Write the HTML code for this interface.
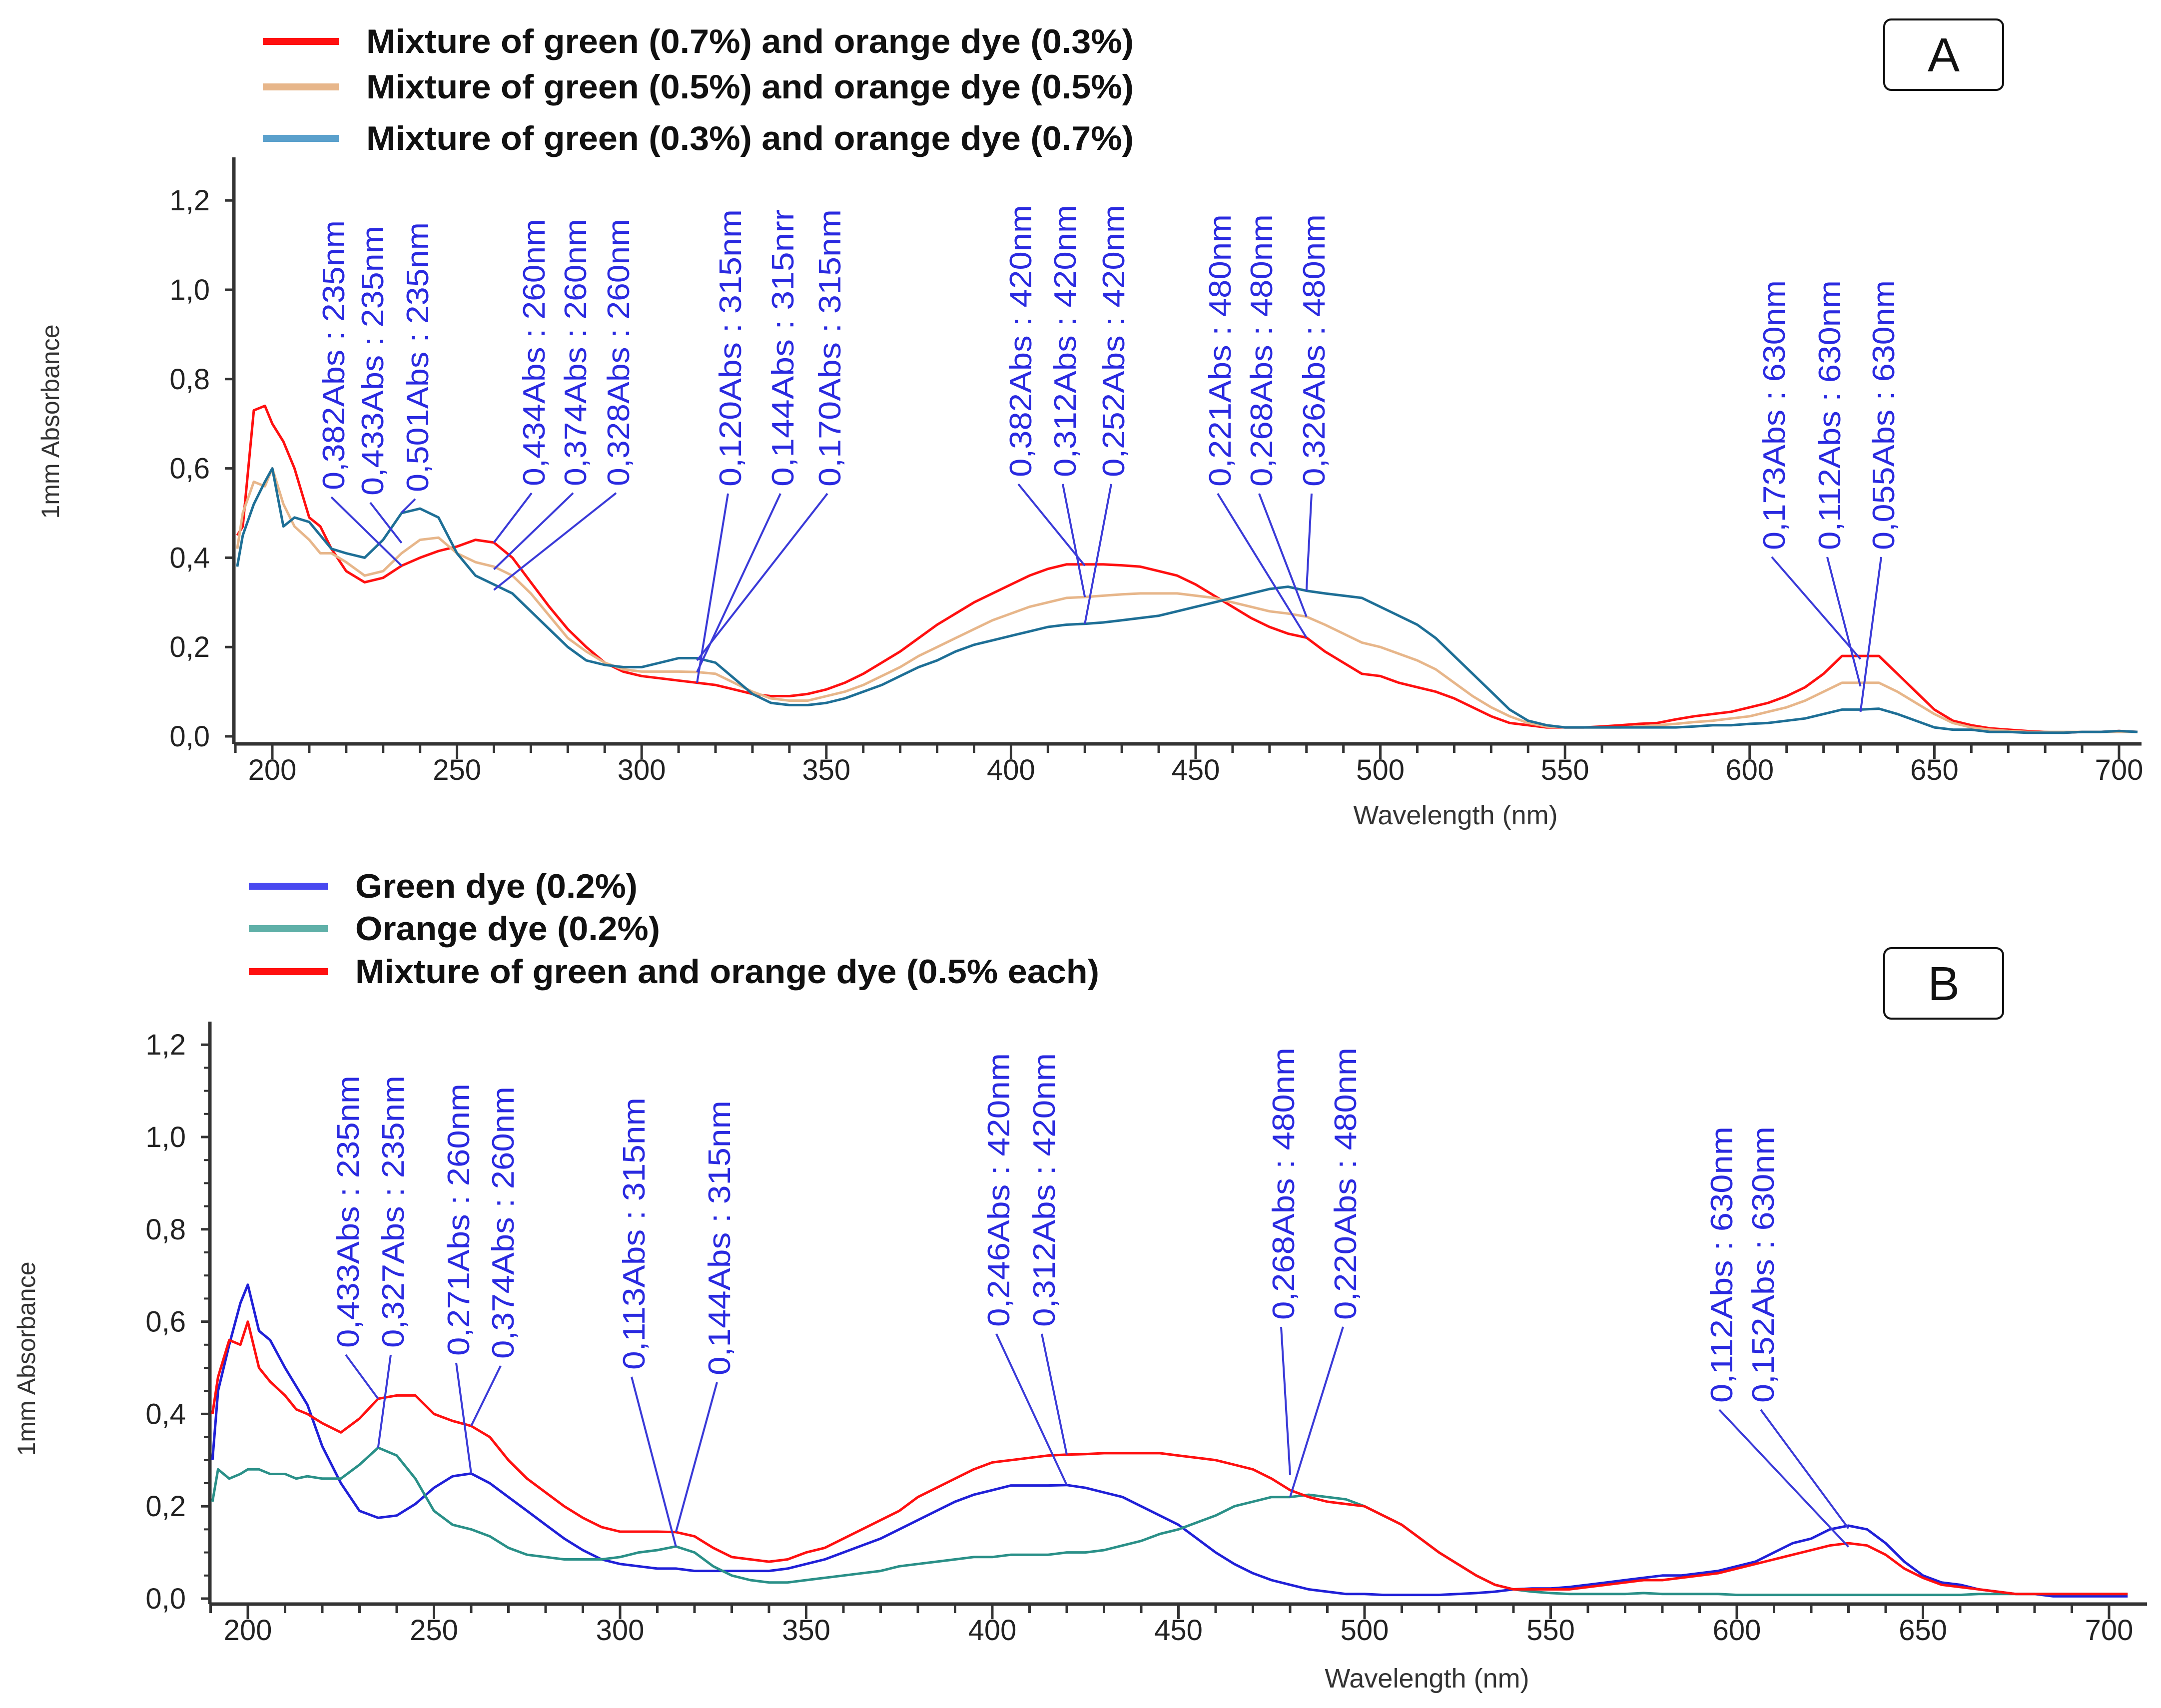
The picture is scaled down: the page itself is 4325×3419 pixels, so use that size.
<!DOCTYPE html>
<html><head><meta charset="utf-8"><style>
html,body{margin:0;padding:0;background:#fff}
svg{display:block;font-family:"Liberation Sans",sans-serif}
</style></head><body>
<svg id="chart" width="4325" height="3419" viewBox="0 0 4325 3419" xmlns="http://www.w3.org/2000/svg"></svg>
<script>
const wl=[190,192,195,198,200,203,206,210,213,216,220,225,230,235,240,245,250,255,260,265,270,275,280,285,290,295,300,305,310,315,320,325,330,335,340,345,350,355,360,365,370,375,380,385,390,395,400,405,410,415,420,425,430,435,440,445,450,455,460,465,470,475,480,485,490,495,500,505,510,515,520,525,530,535,540,545,550,555,560,565,570,575,580,585,590,595,600,605,610,615,620,625,630,635,640,645,650,655,660,665,670,675,680,685,690,695,700,705];
const aRed=[0.45,0.47,0.73,0.74,0.70,0.66,0.60,0.49,0.47,0.42,0.37,0.345,0.355,0.382,0.40,0.415,0.425,0.44,0.434,0.40,0.345,0.29,0.24,0.20,0.165,0.145,0.135,0.13,0.125,0.12,0.115,0.105,0.095,0.09,0.09,0.095,0.105,0.12,0.14,0.165,0.19,0.22,0.25,0.275,0.30,0.32,0.34,0.36,0.375,0.385,0.385,0.385,0.383,0.38,0.37,0.36,0.34,0.315,0.29,0.265,0.245,0.23,0.221,0.19,0.165,0.14,0.135,0.12,0.11,0.10,0.085,0.065,0.045,0.03,0.025,0.02,0.02,0.02,0.022,0.025,0.028,0.03,0.038,0.045,0.05,0.055,0.065,0.075,0.09,0.11,0.14,0.18,0.18,0.18,0.14,0.10,0.06,0.035,0.025,0.018,0.015,0.012,0.01,0.008,0.01,0.01,0.012,0.01];
const aTan=[0.42,0.5,0.57,0.56,0.60,0.52,0.47,0.44,0.41,0.41,0.39,0.36,0.37,0.41,0.44,0.445,0.41,0.39,0.38,0.36,0.32,0.27,0.22,0.19,0.165,0.15,0.145,0.145,0.145,0.144,0.14,0.12,0.10,0.085,0.08,0.08,0.09,0.10,0.115,0.135,0.155,0.18,0.20,0.22,0.24,0.26,0.275,0.29,0.30,0.31,0.312,0.315,0.318,0.32,0.32,0.32,0.315,0.31,0.30,0.29,0.28,0.275,0.268,0.25,0.23,0.21,0.20,0.185,0.17,0.15,0.12,0.09,0.065,0.045,0.03,0.022,0.02,0.02,0.02,0.02,0.022,0.025,0.028,0.032,0.035,0.04,0.045,0.055,0.065,0.08,0.10,0.12,0.12,0.12,0.10,0.075,0.05,0.03,0.02,0.015,0.012,0.01,0.01,0.01,0.01,0.01,0.01,0.01];
const aTeal=[0.38,0.45,0.52,0.57,0.60,0.47,0.49,0.48,0.45,0.42,0.41,0.40,0.44,0.50,0.51,0.49,0.41,0.36,0.34,0.32,0.28,0.24,0.20,0.17,0.16,0.155,0.155,0.165,0.175,0.175,0.165,0.13,0.095,0.075,0.07,0.07,0.075,0.085,0.10,0.115,0.135,0.155,0.17,0.19,0.205,0.215,0.225,0.235,0.245,0.25,0.252,0.255,0.26,0.265,0.27,0.28,0.29,0.30,0.31,0.32,0.33,0.335,0.326,0.32,0.315,0.31,0.29,0.27,0.25,0.22,0.18,0.14,0.10,0.06,0.035,0.025,0.02,0.02,0.02,0.02,0.02,0.02,0.02,0.022,0.025,0.025,0.028,0.03,0.035,0.04,0.05,0.06,0.06,0.062,0.05,0.035,0.02,0.015,0.015,0.01,0.01,0.008,0.008,0.008,0.01,0.01,0.012,0.01];
const bGreen=[0.30,0.45,0.55,0.64,0.68,0.58,0.56,0.50,0.46,0.42,0.33,0.25,0.19,0.175,0.18,0.205,0.24,0.265,0.271,0.25,0.22,0.19,0.16,0.13,0.105,0.085,0.075,0.07,0.065,0.065,0.06,0.06,0.06,0.06,0.06,0.065,0.075,0.085,0.10,0.115,0.13,0.15,0.17,0.19,0.21,0.225,0.235,0.245,0.245,0.245,0.246,0.24,0.23,0.22,0.20,0.18,0.16,0.13,0.10,0.075,0.055,0.04,0.03,0.02,0.015,0.01,0.01,0.008,0.008,0.008,0.008,0.01,0.012,0.015,0.02,0.022,0.022,0.025,0.03,0.035,0.04,0.045,0.05,0.05,0.055,0.06,0.07,0.08,0.10,0.12,0.13,0.15,0.158,0.15,0.12,0.08,0.05,0.035,0.03,0.02,0.015,0.01,0.01,0.005,0.005,0.005,0.005,0.005];
const bOrange=[0.21,0.28,0.26,0.27,0.28,0.28,0.27,0.27,0.26,0.265,0.26,0.26,0.29,0.327,0.31,0.26,0.19,0.16,0.15,0.135,0.11,0.095,0.09,0.085,0.085,0.085,0.09,0.10,0.105,0.113,0.10,0.07,0.05,0.04,0.035,0.035,0.04,0.045,0.05,0.055,0.06,0.07,0.075,0.08,0.085,0.09,0.09,0.095,0.095,0.095,0.10,0.10,0.105,0.115,0.125,0.14,0.15,0.165,0.18,0.20,0.21,0.22,0.22,0.225,0.22,0.215,0.20,0.18,0.16,0.13,0.10,0.075,0.05,0.03,0.02,0.015,0.012,0.01,0.01,0.01,0.01,0.012,0.01,0.01,0.01,0.01,0.008,0.008,0.008,0.008,0.008,0.008,0.008,0.008,0.008,0.008,0.008,0.008,0.008,0.01,0.01,0.01,0.01,0.01,0.01,0.01,0.01,0.01];
const bMix=[0.40,0.48,0.56,0.55,0.60,0.50,0.47,0.44,0.41,0.40,0.38,0.36,0.39,0.433,0.44,0.44,0.40,0.385,0.374,0.35,0.30,0.26,0.23,0.20,0.175,0.155,0.145,0.145,0.145,0.144,0.135,0.11,0.09,0.085,0.08,0.085,0.10,0.11,0.13,0.15,0.17,0.19,0.22,0.24,0.26,0.28,0.295,0.30,0.305,0.31,0.312,0.313,0.315,0.315,0.315,0.315,0.31,0.305,0.30,0.29,0.28,0.26,0.235,0.22,0.21,0.205,0.20,0.18,0.16,0.13,0.10,0.075,0.05,0.03,0.02,0.02,0.02,0.02,0.025,0.03,0.035,0.04,0.04,0.045,0.05,0.055,0.065,0.075,0.085,0.095,0.105,0.115,0.12,0.115,0.095,0.065,0.045,0.03,0.025,0.02,0.015,0.01,0.01,0.01,0.01,0.01,0.01,0.01];
const yTicks=[0,0.2,0.4,0.6,0.8,1.0,1.2];
const yTickLabels=["0,0","0,2","0,4","0,6","0,8","1,0","1,2"];
const xTicks=[200,250,300,350,400,450,500,550,600,650,700];
const xTickLabels=["200","250","300","350","400","450","500","550","600","650","700"];
const annA=[["0,382Abs : 235nm",235,0.382],["0,433Abs : 235nm",235,0.433],["0,501Abs : 235nm",235,0.501],["0,434Abs : 260nm",260,0.434],["0,374Abs : 260nm",260,0.374],["0,328Abs : 260nm",260,0.328],["0,120Abs : 315nm",315,0.120],["0,144Abs : 315nrr",315,0.144],["0,170Abs : 315nm",315,0.170],["0,382Abs : 420nm",420,0.382],["0,312Abs : 420nm",420,0.312],["0,252Abs : 420nm",420,0.252],["0,221Abs : 480nm",480,0.221],["0,268Abs : 480nm",480,0.268],["0,326Abs : 480nm",480,0.326],["0,173Abs : 630nm",630,0.173],["0,112Abs : 630nm",630,0.112],["0,055Abs : 630nm",630,0.055]];
const annB=[["0,433Abs : 235nm",235,0.433],["0,327Abs : 235nm",235,0.327],["0,271Abs : 260nm",260,0.271],["0,374Abs : 260nm",260,0.374],["0,113Abs : 315nm",315,0.113],["0,144Abs : 315nm",315,0.144],["0,246Abs : 420nm",420,0.246],["0,312Abs : 420nm",420,0.312],["0,268Abs : 480nm",480,0.268],["0,220Abs : 480nm",480,0.220],["0,112Abs : 630nm",630,0.112],["0,152Abs : 630nm",630,0.152]];

const NS="http://www.w3.org/2000/svg";
const svg=document.getElementById('chart');
function mk(tag,attrs,parent,txt){const e=document.createElementNS(NS,tag);for(const k in attrs)e.setAttribute(k,attrs[k]);if(txt!==undefined)e.textContent=txt;(parent||svg).appendChild(e);return e;}

function panel(cfg){
  const g=mk('g',{});
  
  
  const X=nm=>cfg.x200+(nm-200)*cfg.pxnm;
  const Y=v=>cfg.y0-v*cfg.pxu;
  const ya=mk('line',{x1:cfg.ax,y1:cfg.top,x2:cfg.ax,y2:cfg.xaxY,stroke:'#333','stroke-width':7},g);
  
  
  const xa=mk('line',{x1:cfg.ax,y1:cfg.xaxY,x2:cfg.right,y2:cfg.xaxY,stroke:'#333','stroke-width':7},g);
  
  
  yTicks.forEach((v,i)=>{
    mk('line',{x1:cfg.ax-18,y1:Y(v),x2:cfg.ax,y2:Y(v),stroke:'#333','stroke-width':5},g);
    const t=mk('text',{x:cfg.ax-48,y:Y(v)+20,'text-anchor':'end','font-size':58,fill:'#222'},g,yTickLabels[i]);
    
    
  });
  if(cfg.minorY){for(let v=0.05;v<1.25;v+=0.05){mk('line',{x1:cfg.ax-12,y1:Y(v),x2:cfg.ax,y2:Y(v),stroke:'#333','stroke-width':4},g);}}
  for(let nm=190;nm<=700;nm+=10){mk('line',{x1:X(nm),y1:cfg.xaxY,x2:X(nm),y2:cfg.xaxY+(nm%50===0?30:18),stroke:'#333','stroke-width':5},g);}
  xTicks.forEach((v,i)=>{
    const t=mk('text',{x:X(v),y:cfg.xaxY+72,'text-anchor':'middle','font-size':58,fill:'#222'},g,xTickLabels[i]);
    
    
  });
  const xt=mk('text',{x:cfg.xtX,y:cfg.xtY,'text-anchor':'middle','font-size':54,fill:'#333'},g,'Wavelength (nm)');
  
  
  const yt=mk('text',{x:0,y:0,'text-anchor':'middle','font-size':50,fill:'#333',transform:`translate(${cfg.ytX},${cfg.ytY}) rotate(-90)`},g,'1mm Absorbance');
  
  
  cfg.series.forEach(s=>{
    const d=wl.map((nm,i)=>(i?'L':'M')+X(Math.max(nm,cfg.xmin)).toFixed(1)+' '+Y(s.vals[i]).toFixed(1)).join(' ');
    const p=mk('path',{d:d,fill:'none',stroke:s.color,'stroke-width':5,'stroke-linejoin':'round'},g);
    
    
  });
  cfg.ann.forEach((a,i)=>{
    const pos=cfg.annPos[i];
    const ln=mk('line',{x1:pos[0]-4,y1:pos[1]+14,x2:X(a[1]),y2:Y(a[2]),stroke:'#3a3ad8','stroke-width':4},g);
    
    
    const t=mk('text',{x:0,y:0,'font-size':62,fill:'#2a2ae0',transform:`translate(${pos[0]+22},${pos[1]}) rotate(-90)`,textLength:pos[2],lengthAdjust:'spacingAndGlyphs'},g,a[0]);
    
    
  });
  cfg.legend.forEach(l=>{
    const sw=mk('line',{x1:cfg.legX1,y1:l[2],x2:cfg.legX2,y2:l[2],stroke:l[1],'stroke-width':14},g);
    
    
    const t=mk('text',{x:cfg.legTX,y:l[2]+23,'font-size':68,'font-weight':'bold',fill:'#111',textLength:l[3],lengthAdjust:'spacingAndGlyphs'},g,l[0]);
    
    
  });
  const bx=mk('rect',{x:3771,y:cfg.boxY,width:238,height:141,rx:14,fill:'#fff',stroke:'#111','stroke-width':4},g);
  
  
  const bt=mk('text',{x:3890,y:cfg.boxY+104,'text-anchor':'middle','font-size':96,fill:'#111'},g,cfg.letter);
  
  
}

panel({name:'panel-a',x200:545,pxnm:7.392,y0:1474,pxu:894,ax:468,top:315,xaxY:1489,right:4286,xmin:190.5,minorY:false,
  xtX:2913,xtY:1650,ytX:118,ytY:844,boxY:39,letter:'A',
  series:[{name:'series-green07-orange03',color:'#ff1010',vals:aRed},{name:'series-green05-orange05',color:'#e7b68a',vals:aTan},{name:'series-green03-orange07',color:'#1e6f96',vals:aTeal}],
  ann:annA,
  annPos:[[667,981,540],[745,992,540],[835,985,540],[1068,973,535],[1151,973,535],[1237,973,535],[1461,974,555],[1566,974,555],[1660,974,555],[2042,955,545],[2131,955,545],[2228,955,545],[2441,974,545],[2524,974,545],[2629,974,545],[3550,1101,540],[3661,1101,540],[3769,1101,540]],
  legX1:526,legX2:678,legTX:733,
  legend:[['Mixture of green (0.7%) and orange dye (0.3%)','#ff1010',83,1536],['Mixture of green (0.5%) and orange dye (0.5%)','#e7b68a',174,1536],['Mixture of green (0.3%) and orange dye (0.7%)','#5aa0cc',277,1536]]
});
panel({name:'panel-b',x200:496,pxnm:7.45,y0:3200,pxu:924,ax:420,top:2045,xaxY:3211,right:4297,xmin:190.5,minorY:true,
  xtX:2856,xtY:3378,ytX:70,ytY:2720,boxY:1898,letter:'B',
  series:[{name:'series-green-dye',color:'#2020d8',vals:bGreen},{name:'series-orange-dye',color:'#2a9088',vals:bOrange},{name:'series-mixture',color:'#ff1010',vals:bMix}],
  ann:annB,
  annPos:[[696,2698,545],[786,2698,545],[917,2714,545],[1006,2720,545],[1268,2742,545],[1439,2753,550],[1998,2656,548],[2089,2656,548],[2568,2642,545],[2692,2642,545],[3445,2808,553],[3528,2808,553]],
  legX1:498,legX2:656,legTX:711,
  legend:[['Green dye (0.2%)','#4848f0',1774,565],['Orange dye (0.2%)','#5fb0a8',1859,610],['Mixture of green and orange dye (0.5% each)','#ff1010',1945,1489]]
});
</script>
</body></html>
